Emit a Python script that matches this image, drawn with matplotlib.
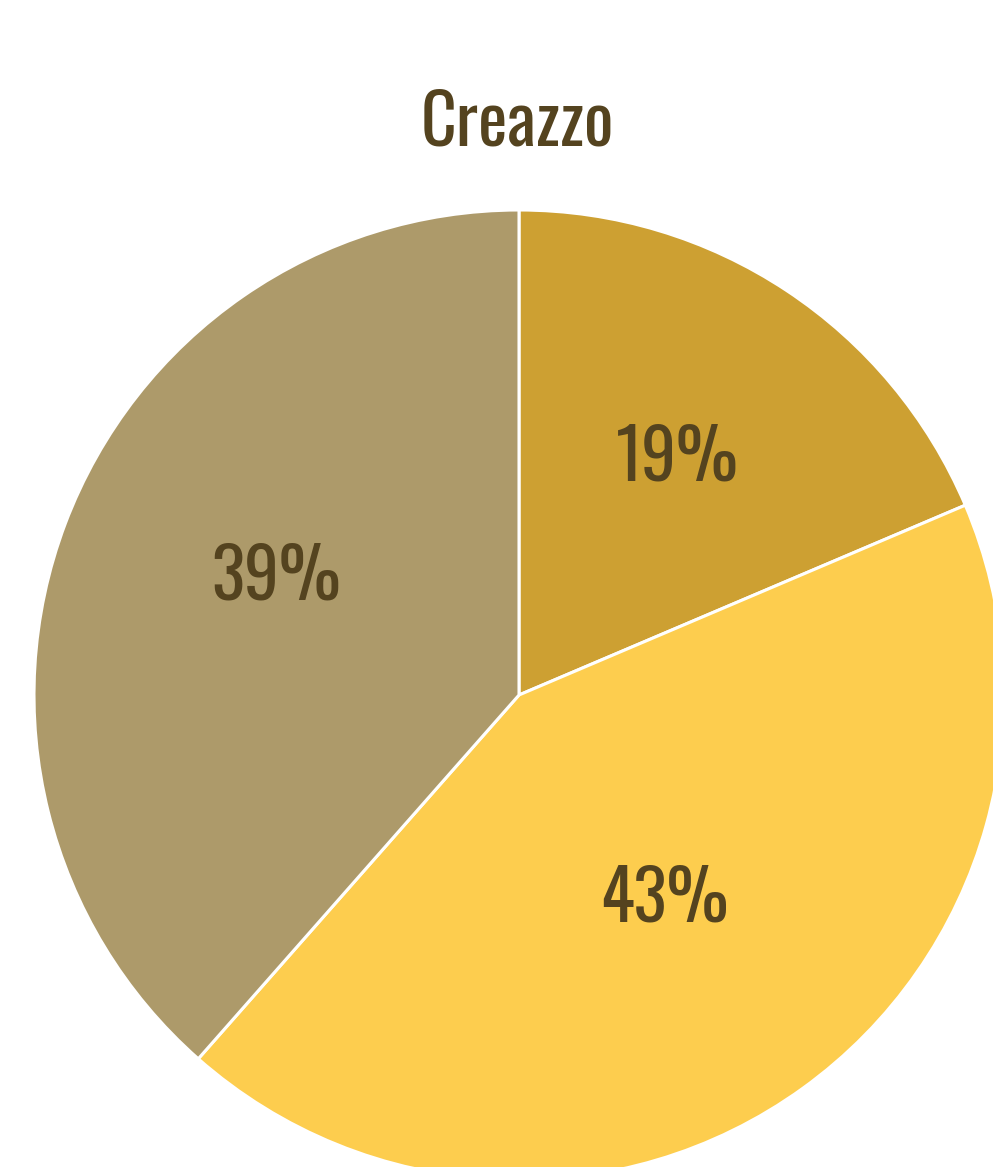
import matplotlib
matplotlib.use("Agg")
import matplotlib.pyplot as plt
import numpy as np

title = "Creazzo"
categories = ["A", "B", "C"]
values = [18.6, 42.9, 38.5]
labels = ["19%", "43%", "39%"]
colors = ["#CDA032", "#FDCD4E", "#AD9A6A"]

# label placement (fraction of radius, angular shift in degrees)
label_r = [0.592, 0.513, 0.559]
label_shift = [0.0, 0.0, -5.7]

fam = ["Oswald", "DejaVu Sans"]
textc = "#54431F"
W, H = 993, 1167
cx, cy, R = 519, 472, 485
fsize = 50
half_cap = 25  # approx half cap height in px

fig = plt.figure(figsize=(W / 100, H / 100), dpi=100)
ax = fig.add_axes([0, 0, 1, 1])
wedges, _ = ax.pie(values, colors=colors, startangle=90, counterclock=False,
                   center=(cx, cy), radius=R, frame=False,
                   wedgeprops=dict(edgecolor="white", linewidth=2.2))
total = sum(values)
ang = 90.0
for v, lab, lr, sh in zip(values, labels, label_r, label_shift):
    mid = ang - v / total * 360 / 2 + sh
    ang -= v / total * 360
    r = lr * R
    ax.text(cx + r * np.cos(np.radians(mid)), cy + r * np.sin(np.radians(mid)) - half_cap, lab,
            ha="center", va="baseline", fontsize=fsize, color=textc, family=fam)
ax.set_xlim(0, W)
ax.set_ylim(0, H)
ax.set_aspect("equal")
ax.axis("off")
ax.text(cx - 2, H - 146, title, ha="center", va="baseline", fontsize=fsize,
        color=textc, family=fam)
fig.savefig("out.png", dpi=100)
